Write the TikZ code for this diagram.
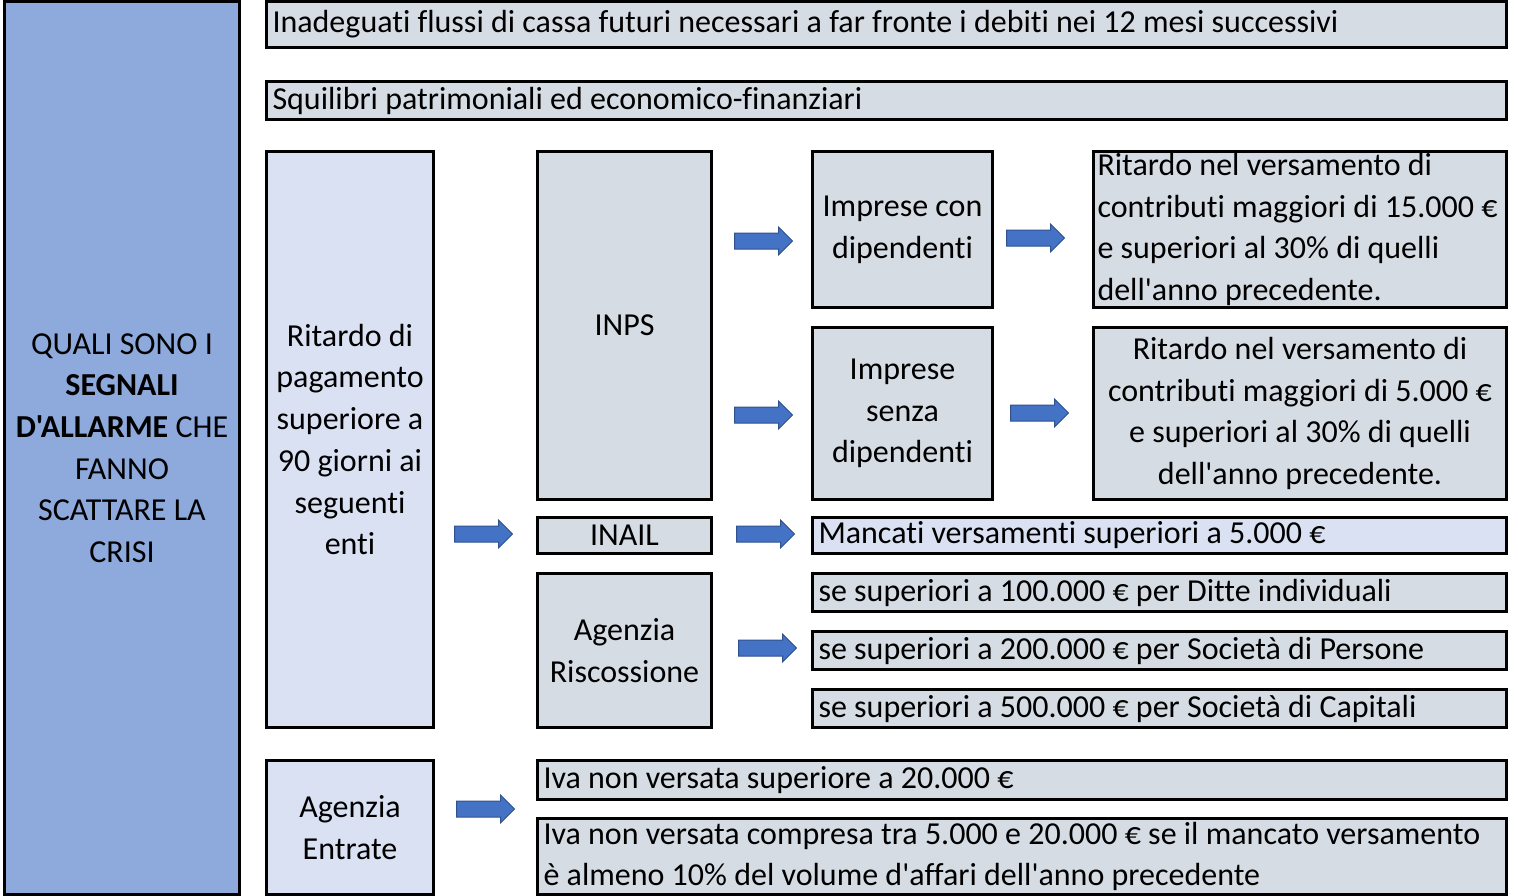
\documentclass[tikz,border=0pt]{standalone}
\usepackage{fontspec}
\setmainfont{Carlito}[Ligatures={TeXOff,NoCommon}]
\usetikzlibrary{shapes.arrows}
\definecolor{sidebg}{HTML}{8EA9DB}
\definecolor{greybg}{HTML}{D6DCE4}
\definecolor{lightbg}{HTML}{D9E1F2}
\definecolor{arrowbg}{HTML}{4472C4}
\definecolor{arrowrim}{HTML}{2F528F}
\tikzset{
  box/.style={draw, line width=3pt, fill=greybg, inner xsep=6pt, inner ysep=0pt,
    font=\fontsize{32}{41.7}\selectfont},
  lbox/.style={box, align=flush left, text width=#1},
  cbox/.style={box, align=center},
  bluearrow/.style={single arrow, draw=arrowrim, fill=arrowbg, line width=1pt,
    minimum height=58pt, text height=15pt, text depth=0pt, single arrow head extend=6pt,
    inner sep=0pt, anchor=west}
}
\begin{document}
\begin{tikzpicture}[x=1pt,y=-1pt]
    \useasboundingbox (0,0) rectangle (1518,896);
    % left column
    \node[cbox, fill=sidebg, minimum width=235pt, minimum height=893pt] (side) at (122,448)
      {QUALI SONO I\\ \textbf{SEGNALI}\\ \textbf{D'ALLARME} CHE\\ FANNO\\ SCATTARE LA\\ CRISI};
    % first two signals
    \node[lbox=1228pt, minimum width=1240pt, minimum height=46pt] (flussi) at (886.5,24.5)
      {Inadeguati flussi di cassa futuri necessari a far fronte i debiti nei 12 mesi successivi};
    \node[lbox=1228pt, minimum width=1240pt, minimum height=38pt] (squilibri) at (886.5,100.5)
      {Squilibri patrimoniali ed economico-finanziari};
    % ritardi verso gli enti
    \node[cbox, fill=lightbg, minimum width=167pt, minimum height=576pt] (ritardo) at (350,439.5)
      {Ritardo di\\ pagamento\\ superiore a\\ 90 giorni ai\\ seguenti\\ enti};
    \node[cbox, minimum width=174pt, minimum height=348pt] (inps) at (624.5,325.5) {INPS};
    \node[cbox, minimum width=174pt, minimum height=36pt] (inail) at (624.5,535.5) {INAIL};
    \node[cbox, minimum width=174pt, minimum height=154pt] (riscossione) at (624.5,650.5)
      {Agenzia\\ Riscossione};
    \node[cbox, minimum width=180pt, minimum height=156pt] (condip) at (902.5,229.5)
      {Imprese con\\ dipendenti};
    \node[cbox, minimum width=180pt, minimum height=172pt] (senzadip) at (902.5,413.5)
      {Imprese\\ senza\\ dipendenti};
    \node[lbox=405pt, minimum width=413pt, minimum height=156pt, inner xsep=4pt] (soglia15) at (1300,229.5)
      {Ritardo nel versamento di\\ contributi maggiori di 15.000 €\\ e superiori al 30\% di quelli\\ dell'anno precedente.};
    \node[cbox, minimum width=413pt, minimum height=172pt] (soglia5) at (1300,413.5)
      {Ritardo nel versamento di\\ contributi maggiori di 5.000 €\\ e superiori al 30\% di quelli\\ dell'anno precedente.};
    \node[lbox=682pt, fill=lightbg, minimum width=694pt, minimum height=36pt] (mancati) at (1159.5,535.5)
      {Mancati versamenti superiori a 5.000 €};
    \node[lbox=682pt, minimum width=694pt, minimum height=38pt] (ditte) at (1159.5,592.5)
      {se superiori a 100.000 € per Ditte individuali};
    \node[lbox=682pt, minimum width=694pt, minimum height=38pt] (persone) at (1159.5,650.5)
      {se superiori a 200.000 € per Società di Persone};
    \node[lbox=682pt, minimum width=694pt, minimum height=38pt] (capitali) at (1159.5,708.5)
      {se superiori a 500.000 € per Società di Capitali};
    % iva
    \node[cbox, fill=lightbg, minimum width=167pt, minimum height=134pt] (entrate) at (350,827.5)
      {Agenzia\\ Entrate};
    \node[lbox=957pt, minimum width=969pt, minimum height=39pt] (iva20) at (1022,780)
      {Iva non versata superiore a 20.000 €};
    \node[lbox=957pt, minimum width=969pt, minimum height=76pt] (ivacompresa) at (1022,856.5)
      {Iva non versata compresa tra 5.000 e 20.000 € se il mancato versamento\\ è almeno 10\% del volume d'affari dell'anno precedente};
    % block arrows
    \node[bluearrow] (a1) at (734,241) {};
    \node[bluearrow] (a2) at (734,415) {};
    \node[bluearrow] (a3) at (1006,238) {};
    \node[bluearrow] (a4) at (1010,413) {};
    \node[bluearrow] (a5) at (454,534) {};
    \node[bluearrow] (a6) at (736,534) {};
    \node[bluearrow] (a7) at (738,648) {};
    \node[bluearrow] (a8) at (456,809) {};
\end{tikzpicture}
\end{document}
